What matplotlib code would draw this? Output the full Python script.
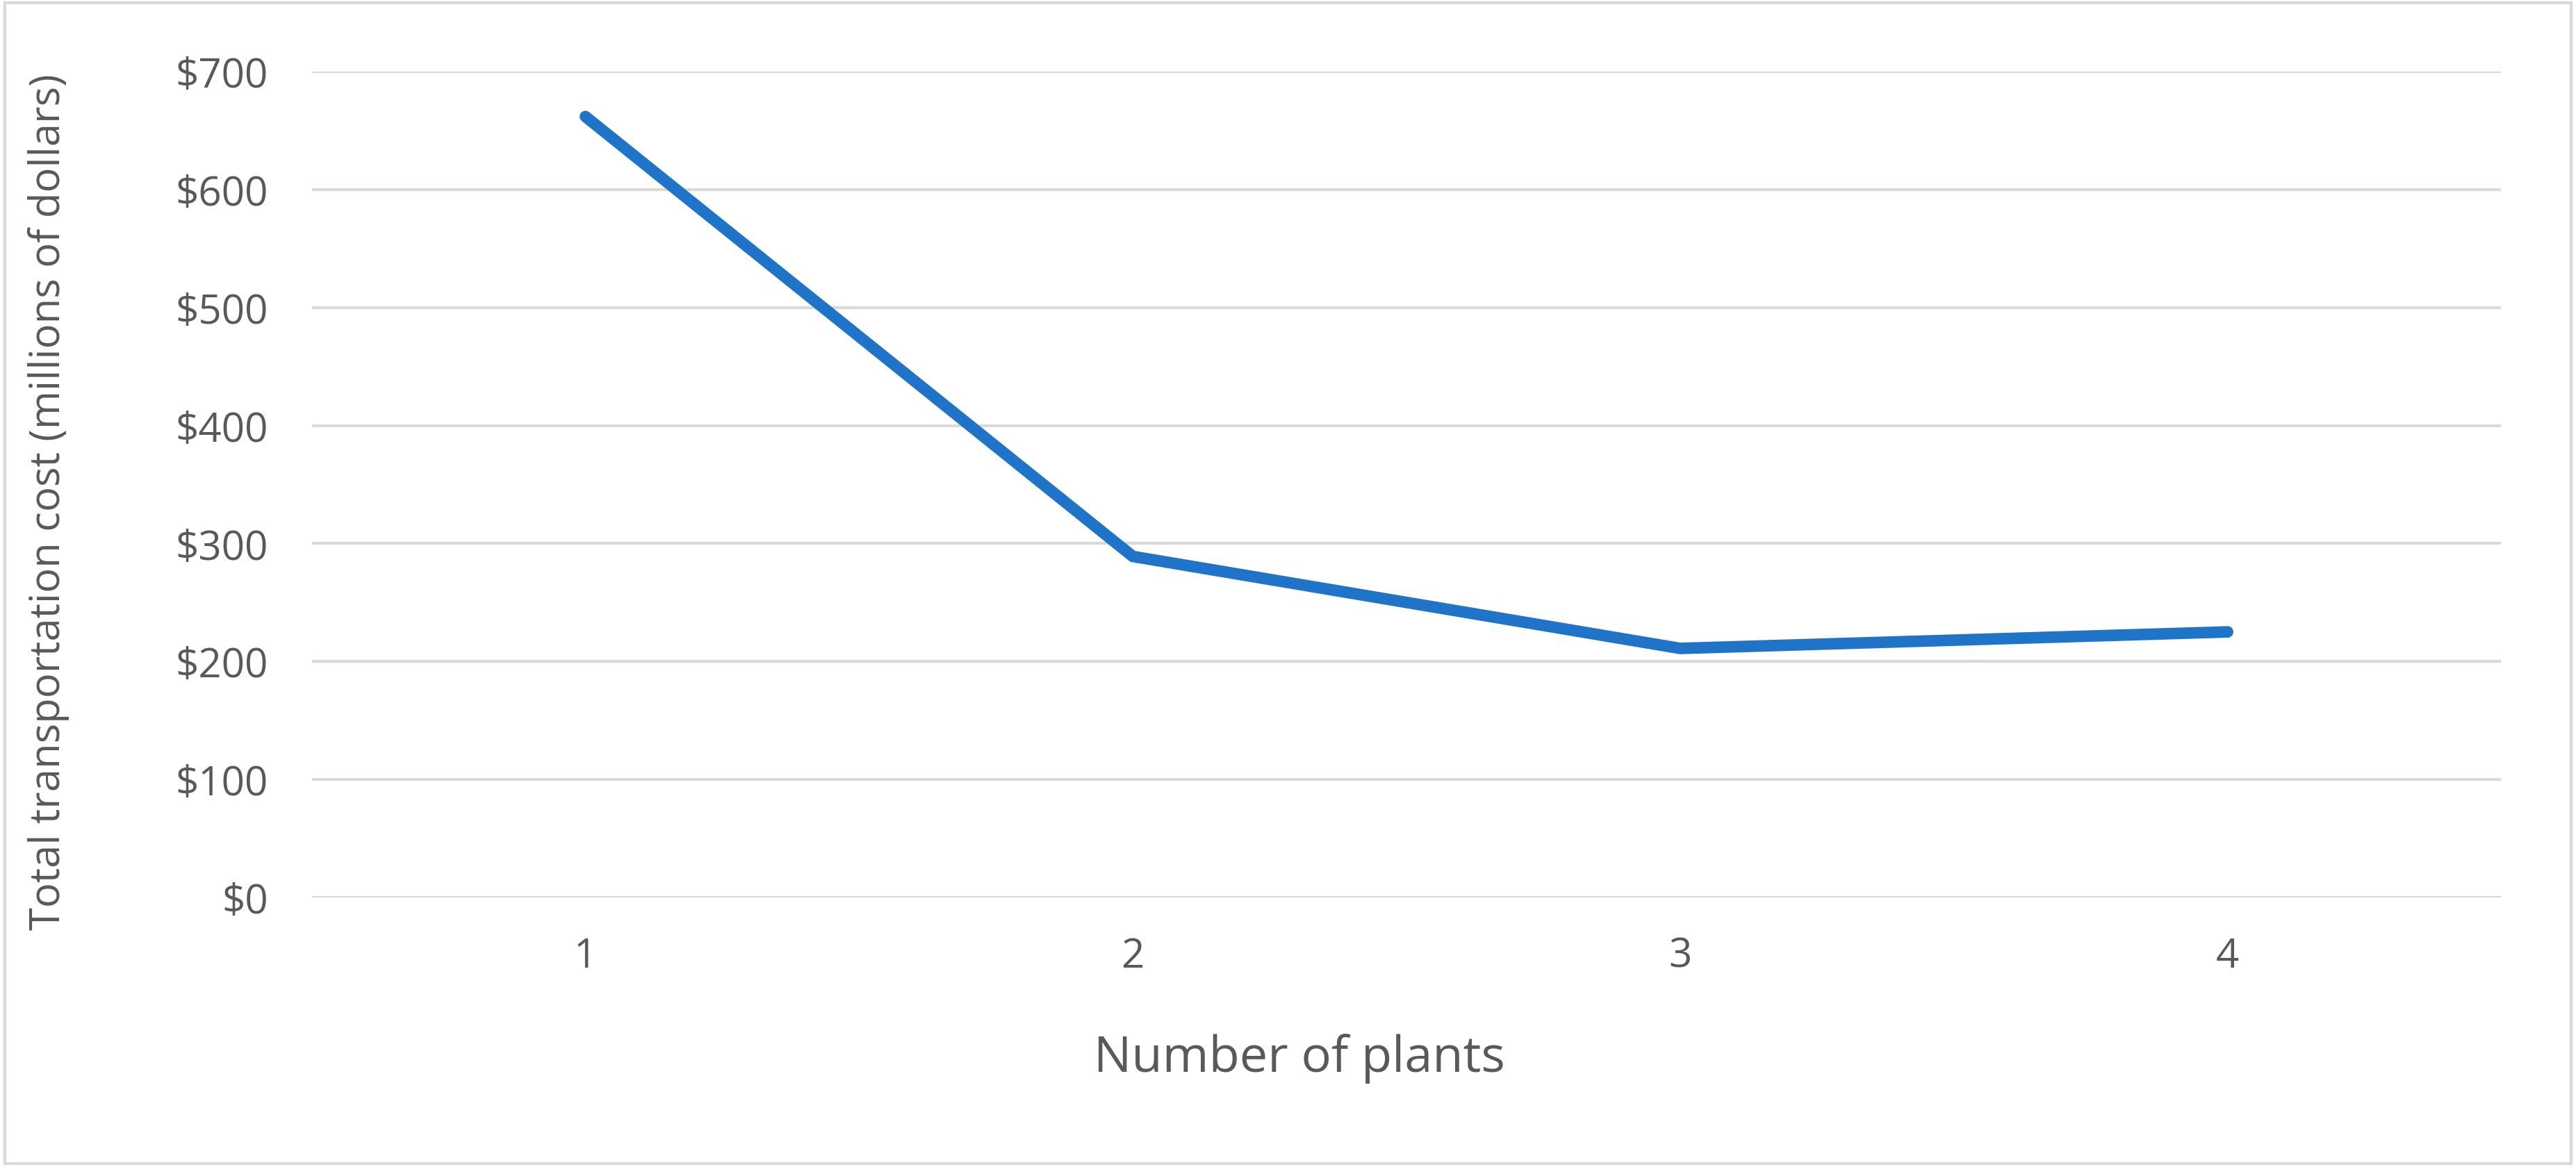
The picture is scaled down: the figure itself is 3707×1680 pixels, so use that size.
import matplotlib
matplotlib.use("Agg")
import matplotlib.pyplot as plt
from matplotlib.patches import Rectangle

plants = [1, 2, 3, 4]
costs = [662, 289, 211, 225]
yticks = [0, 100, 200, 300, 400, 500, 600, 700]

plt.rcParams['font.family'] = ['Open Sans', 'DejaVu Sans']
fig = plt.figure(figsize=(37.07, 16.81), dpi=100)
ax = fig.add_axes([0.121, 0.231, 0.850, 0.707])
ax.plot(plants, costs, color='#1F74C8', lw=12, solid_capstyle='round', solid_joinstyle='round')
ax.set_xlim(0.5, 4.5)
ax.set_ylim(0, 700)
ax.set_yticks(yticks)
ax.set_yticklabels([f"${v}" for v in yticks])
ax.set_xticks(plants)
ax.set_xticklabels([str(p) for p in plants])
ax.grid(axis='y', color='#D9D9D9', lw=3)
ax.set_axisbelow(True)
for s in ax.spines.values():
    s.set_visible(False)
ax.tick_params(length=0, labelsize=42, labelcolor='#595959', pad=45)
ax.tick_params(axis='x', pad=40)
ax.set_xlabel("Number of plants", fontsize=52, color='#595959', va='center')
ax.set_ylabel("Total transportation cost (millions of dollars)", fontsize=43, color='#595959', va='center')
ax.xaxis.set_label_coords(0.451, -0.195)
ax.yaxis.set_label_coords(-0.12, 0.48)
fig.patches.append(Rectangle((0.002, 0.003), 0.996, 0.994, transform=fig.transFigure,
                             fill=False, edgecolor='#D9D9D9', lw=3))
fig.savefig("out.png", dpi=100)
